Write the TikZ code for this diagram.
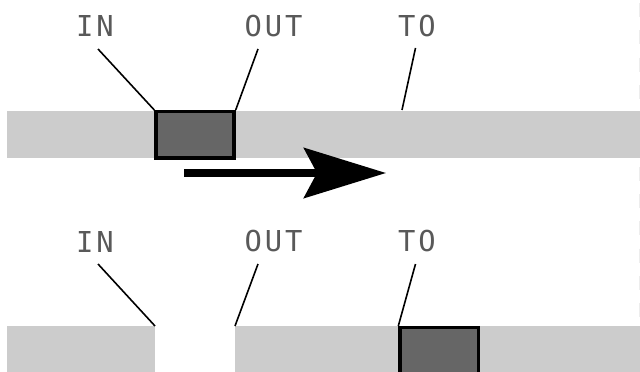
\documentclass[tikz,border=0pt]{standalone}
\usepackage{fontspec}
\newfontfamily\labelfont[LetterSpace=10]{DejaVu Sans Mono}
\usetikzlibrary{arrows.meta}
\definecolor{bandgray}{HTML}{CCCCCC}
\definecolor{slidergray}{HTML}{666666}
\begin{document}
\begin{tikzpicture}[x=1pt,y=-1pt,
  band/.style={fill=bandgray, draw=none},
  slider/.style={draw=black, line width=3.4pt, fill=slidergray, inner sep=0pt},
  lbl/.style={font=\labelfont\fontsize{28.8}{30}\selectfont, text=black!65, inner sep=0pt, anchor=center},
  leader/.style={draw=black, line width=1.6pt},
  move/.style={line width=7.5pt, -{Stealth[length=82pt,width=50pt,inset=13pt]}}]
\useasboundingbox (0,0) rectangle (640,372);
\clip (0,0) rectangle (640,372);
% faint dashed edge line
\draw[black, opacity=0.07, line width=1pt, dash pattern=on 14pt off 13.3pt] (639.4,3) -- (639.4,372);
% top band
\fill[band] (7,111) rectangle (640,158.3);
\node[slider, minimum width=78pt, minimum height=46.3pt] (boxTop) at (195,134.85) {};
\node[lbl] (inTop) at (95,26.5) {IN};
\node[lbl] (outTop) at (273.5,26.5) {OUT};
\node[lbl] (toTop) at (417,26.5) {TO};
\coordinate (inTopFoot) at (98,49);
\coordinate (outTopFoot) at (258,49);
\coordinate (toTopFoot) at (415.5,48);
\coordinate (toTopEnd) at (402,110);
\draw[leader] (inTopFoot) -- (boxTop.north west);
\draw[leader] (outTopFoot) -- (boxTop.north east);
\draw[leader] (toTopFoot) -- (toTopEnd);
% arrow
\coordinate (arrowStart) at (184,173);
\coordinate (arrowTip) at (386,173);
\draw[move] (arrowStart) -- (arrowTip);
% bottom band
\fill[band] (7,326) rectangle (155,380);
\fill[band] (235,326) rectangle (640,380);
\node[slider, minimum width=78.5pt, minimum height=46.3pt] (boxBot) at (439.25,350.85) {};
\node[lbl] (inBot) at (95,241.5) {IN};
\node[lbl] (outBot) at (273.5,241.5) {OUT};
\node[lbl] (toBot) at (417,241.5) {TO};
\coordinate (inBotFoot) at (98,264);
\coordinate (outBotFoot) at (258,264);
\coordinate (toBotFoot) at (415.5,264);
\coordinate (inBotEnd) at (155,326);
\coordinate (outBotEnd) at (235,326);
\draw[leader] (inBotFoot) -- (inBotEnd);
\draw[leader] (outBotFoot) -- (outBotEnd);
\draw[leader] (toBotFoot) -- (boxBot.north west);
\end{tikzpicture}
\end{document}
